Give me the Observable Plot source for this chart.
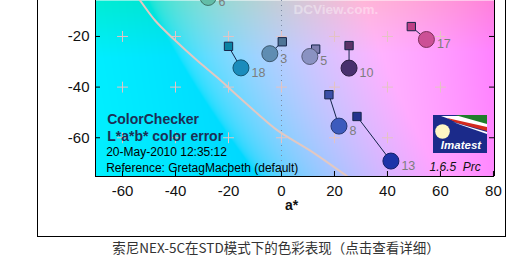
<!DOCTYPE html>
<html>
<head>
<meta charset="utf-8">
<script src="https://cdn.jsdelivr.net/npm/d3@7"></script>
<script src="https://cdn.jsdelivr.net/npm/@observablehq/plot@0.6"></script>
<style>
  html, body { margin: 0; padding: 0; background: #fff; }
  #wrap { position: relative; width: 515px; height: 261px; overflow: hidden; font-family: "Liberation Sans", Arial, sans-serif; }
  #chart { position: absolute; left: 0; top: 0; }
  #box { position: absolute; left: 37px; top: -2px; width: 469px; height: 239px; border: 1px solid #000; box-sizing: border-box; pointer-events: none; }
  #logo { position: absolute; left: 433px; top: 115px; }
  #caption { position: absolute; left: 0; top: 238px; width: 552px; text-align: center; font-family: "Noto Sans CJK SC", sans-serif; font-size: 13.5px; line-height: 18px; color: #333; }
</style>
</head>
<body>
<div id="wrap">
  <div id="chart"></div>
  <div id="box"></div>
  <svg id="logo" width="54" height="38" viewBox="0 0 54 38">
    <rect x="0" y="0" width="54" height="38" fill="#1b2a8a"/>
    <polygon points="8,1 54,1 54,14 30,9" fill="#fff"/>
    <polygon points="22,0 54,0 54,9" fill="#1e7d2a"/>
    <polygon points="14,3 54,12 54,16 24,8" fill="#d42a1e"/>
    <polygon points="20,7 54,17 54,19 28,10" fill="#fff"/>
    <circle cx="9.5" cy="16.5" r="7.3" fill="#fff6c4"/>
    <text x="28" y="33.5" text-anchor="middle" font-family="Liberation Sans, Arial, sans-serif" font-size="11.5" font-weight="bold" font-style="italic" fill="#fff">Imatest</text>
  </svg>
  <div id="caption">索尼NEX-5C在STD模式下的色彩表现（点击查看详细）</div>
</div>
<script>
// ColorChecker patches shown in this part of the a*b* plane
const patchId = ["18", "3", "5", "10", "17", "8", "13", "6"];
// reference (ideal) values: squares
const refA = [-20.0, 0.3, 12.9, 25.5, 49.0, 17.9, 28.5, -33.4];
const refB = [-23.9, -22.1, -25.0, -23.6, -16.1, -43.0, -51.6, -0.2];
// camera values: circles
const camA = [-15.3, -4.4, 10.7, 25.5, 54.7, 21.7, 41.3, -27.7];
const camB = [-32.4, -26.8, -27.9, -32.5, -21.2, -55.4, -69.2, -4.6];
// patch colours
const refColor = ["#0a84a4", "#4f7596", "#7e7eb0", "#5c3467", "#bd3f85", "#3b50a8", "#24328e", "#3fa89a"];
const camColor = ["#1a8cbc", "#5f8db2", "#8a92c2", "#48306e", "#cc5096", "#3d5bbd", "#1d34a8", "#62bda8"];

// sRGB gamut boundary curve
const gamutA = [-56.4, -53.4, -47.7, -40.9, -31.8, -24.2, -16.7, -9.1, -1.5, 11.0, 25.0, 31.8];
const gamutB = [-1.9, -5.8, -13.7, -20.8, -29.5, -36.2, -43.3, -50.4, -57.1, -65.2, -75.3, -80.0];

// axis ticks and grid crosses
const xTicks = [-60, -40, -20, 0, 20, 40, 60, 80];
const yTicks = [-60, -40, -20];
const crossA = [-60, -40, -20, 0, 20, 40, 60];
const crossB = [-20, -40, -60];

const xDomain = [-70.2, 80.4];
const yDomain = [-75.3, -5.8];

const patches = patchId.map((id, i) => ({
  id, ra: refA[i], rb: refB[i], ca: camA[i], cb: camB[i], rc: refColor[i], cc: camColor[i]
}));
const gamut = gamutA.map((a, i) => ({a, b: gamutB[i]}));
const crosses = d3.cross(crossA, crossB).map(([a, b]) => ({a, b}));

const W = 515, H = 238;
const mL = 95, mR = 21, mT = 0, mB = 62;
const frameW = W - mL - mR, frameH = H - mT - mB;
const plainNumber = d => String(d);

const plot = Plot.plot({
  width: W,
  height: H,
  marginLeft: mL,
  marginRight: mR,
  marginTop: mT,
  marginBottom: mB,
  style: {fontFamily: "Liberation Sans, Arial, sans-serif", background: "transparent", color: "#111"},
  x: {domain: xDomain},
  y: {domain: yDomain},
  color: {type: "identity"},
  marks: [
    // a*b* colour plane at constant lightness
    Plot.raster({
      x1: xDomain[0], x2: xDomain[1], y1: yDomain[0], y2: yDomain[1],
      pixelSize: 1,
      fill: (a, b) => d3.lab(82, a, b).formatRgb()
    }),
    Plot.ruleX([0], {stroke: "#7c8aa2", strokeDasharray: "1,4"}),
    Plot.dot(crosses, {x: "a", y: "b", symbol: "plus", r: 3.6, stroke: "#e4c3c3", strokeWidth: 1}),
    Plot.line(gamut, {x: "a", y: "b", stroke: "#e2c8c2", strokeWidth: 2, curve: "catmull-rom", clip: true}),
    // error vectors
    Plot.link(patches, {x1: "ra", y1: "rb", x2: "ca", y2: "cb", stroke: "#13244a", strokeWidth: 1, clip: true}),
    Plot.dot(patches, {x: "ra", y: "rb", symbol: "square", r: 4.7, fill: "rc", stroke: "#16254a", strokeWidth: 1, clip: true}),
    Plot.dot(patches, {x: "ca", y: "cb", r: 8, fill: "cc", stroke: d => d3.color(d.cc).darker(1.4).formatHex(), strokeWidth: 1, clip: true}),
    Plot.text(patches, {x: "ca", y: "cb", text: "id", dx: 10.5, dy: 5, textAnchor: "start", fontSize: 12.5, fill: "#7d7d7d", clip: true}),
    // watermark
    Plot.text(["DCView.com."], {frameAnchor: "top-left", dx: 198, dy: 3.7, textAnchor: "start", fontSize: 13.5, fontWeight: "bold", fill: "#ffffff", fillOpacity: 0.4}),
    // title block
    Plot.text(["ColorChecker"], {frameAnchor: "top-left", dx: 11.7, dy: 113.2, textAnchor: "start", fontSize: 14, fontWeight: "bold", fill: "#1c2f55"}),
    Plot.text(["L*a*b* color error"], {frameAnchor: "top-left", dx: 11.7, dy: 130.5, textAnchor: "start", fontSize: 14, fontWeight: "bold", fill: "#1c2f55"}),
    Plot.text(["20-May-2010 12:35:12"], {frameAnchor: "top-left", dx: 10.7, dy: 147.2, textAnchor: "start", fontSize: 12, fill: "#000"}),
    Plot.text(["Reference: GretagMacbeth (default)"], {frameAnchor: "top-left", dx: 10.7, dy: 162.9, textAnchor: "start", fontSize: 12, fill: "#000"}),
    Plot.text(["1.6.5\u00a0\u00a0Prc"], {frameAnchor: "top-left", dx: 334, dy: 162.2, textAnchor: "start", fontSize: 12, fontStyle: "italic", fill: "#111"}),
    // frame (left, right, bottom)
    Plot.ruleX(xDomain, {stroke: "#000", strokeWidth: 1}),
    Plot.ruleY([yDomain[0]], {stroke: "#000", strokeWidth: 1}),
    // inward ticks
    Plot.tickX(xTicks, {x: d => d, insetTop: frameH - 5, stroke: "#000"}),
    Plot.tickY(yTicks, {y: d => d, insetRight: frameW - 5, stroke: "#000"}),
    Plot.tickY(yTicks, {y: d => d, insetLeft: frameW - 5, stroke: "#000"}),
    Plot.axisX(xTicks, {tickSize: 0, tickPadding: 9, fontSize: 15, label: null, fill: "#111", tickFormat: plainNumber}),
    Plot.axisY(yTicks, {tickSize: 0, tickPadding: 6, fontSize: 15, label: null, fill: "#111", tickFormat: plainNumber}),
    Plot.text(["a*"], {frameAnchor: "bottom", dx: -3.5, dy: 33, fontSize: 14, fontWeight: "bold", fill: "#111"})
  ]
});
document.getElementById("chart").appendChild(plot);
</script>
</body>
</html>
